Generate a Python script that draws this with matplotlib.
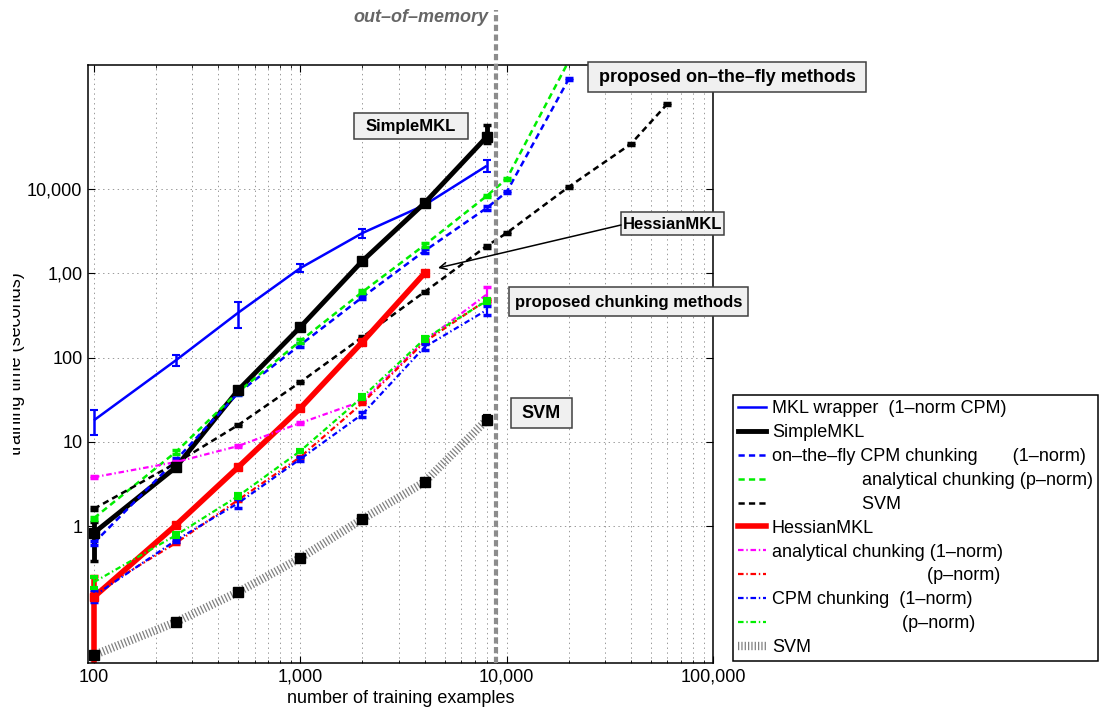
import matplotlib
matplotlib.use('Agg')
import matplotlib.pyplot as plt
from matplotlib.lines import Line2D
from matplotlib.patches import Rectangle, FancyArrowPatch
from matplotlib.ticker import LogLocator, NullLocator, NullFormatter

plt.rcParams['font.family'] = 'Liberation Sans'
plt.rcParams['font.size'] = 13
plt.rcParams['lines.scale_dashes'] = False

W, H = 1099, 711

# training set sizes
n_base = [100, 250, 500, 1000, 2000, 4000, 8000]
n_fly = [100, 250, 500, 1000, 2000, 4000, 8000, 10000, 20000]
n_fly_svm = [100, 250, 500, 1000, 2000, 4000, 8000, 10000, 20000, 40000, 60000]
n_hessian = [100, 250, 500, 1000, 2000, 4000]
n_out_of_memory = 8850

# training times in seconds, with error bar half widths
mkl_wrapper = [18, 93, 340, 1150, 3000, 6450, 18800]
mkl_wrapper_err = [6, 14, 113, 120, 380, 300, 3100]

simplemkl = [0.83, 5.0, 41, 230, 1400, 6800, 41400]
simplemkl_err_lo = [0.45, 0.25, 2, 10, 60, 300, 6200]
simplemkl_err_hi = [0.29, 0.25, 2, 10, 60, 300, 16100]

fly_cpm_1norm = [0.63, 6.1, 38, 141, 520, 1840, 5950, 9200, 202000]
fly_cpm_1norm_err = [0.03, 0.3, 2, 6, 20, 80, 250, 300, 6000]

fly_analytical_pnorm = [1.24, 7.6, 39, 157, 600, 2160, 8260, 13150, 330000]
fly_analytical_pnorm_err = [0.05, 0.4, 2, 8, 25, 120, 300, 400, 10000]

fly_svm = [1.6, 5.6, 15.8, 51, 175, 600, 2100, 3000, 10600, 34200, 102000]
fly_svm_err = [0.06, 0.2, 0.5, 1.5, 5, 20, 80, 100, 350, 1000, 3000]

hessianmkl = [0.144, 1.03, 5.0, 25, 153, 1000]
hessianmkl_err_lo = [0.14, 0.04, 0.2, 1, 5, 30]
hessianmkl_err_hi = [0.11, 0.04, 0.2, 1, 5, 30]

analytical_1norm = [3.8, 5.75, 8.9, 16.7, 30.5, 157, 560]
analytical_1norm_err = [0.1, 0.2, 0.3, 0.5, 1, 5, 120]

analytical_pnorm = [0.16, 0.63, 2.04, 6.6, 28.8, 153, 481]
analytical_pnorm_err = [0.005, 0.02, 0.06, 0.2, 0.9, 5, 15]

cpm_1norm = [0.148, 0.68, 1.87, 6.24, 21.3, 133, 366]
cpm_1norm_err = [0.024, 0.03, 0.25, 0.3, 1.5, 10, 45]

cpm_pnorm = [0.216, 0.78, 2.27, 7.77, 34, 166, 469]
cpm_pnorm_err = [0.03, 0.04, 0.1, 0.3, 1.5, 7, 20]

svm = [0.0294, 0.0726, 0.165, 0.417, 1.21, 3.33, 18.1]
svm_err = [0.002, 0.004, 0.01, 0.02, 0.06, 0.2, 2]

x_ticks = [100, 1000, 10000, 100000]
x_tick_labels = ['100', '1,000', '10,000', '100,000']
y_ticks = [1, 10, 100, 1000, 10000]
y_tick_labels = ['1', '10', '100', '1,00', '10,000']

legend_labels = [
    'MKL wrapper  (1\u2013norm CPM)',
    'SimpleMKL',
    'on\u2013the\u2013fly CPM chunking       (1\u2013norm)',
    '                  analytical chunking (p\u2013norm)',
    '                  SVM',
    'HessianMKL',
    'analytical chunking (1\u2013norm)',
    '                               (p\u2013norm)',
    'CPM chunking  (1\u2013norm)',
    '                          (p\u2013norm)',
    'SVM',
]


def px(x, y):
    # pixel position (from top left) to figure fraction
    return x / W, 1 - y / H


fig = plt.figure(figsize=(W / 100, H / 100), dpi=100)
l, t = px(88, 65)
r, b = px(713, 663)
ax = fig.add_axes([l, b, r - l, t - b])

DASH = (4.5, 3)
DASHDOT = (4, 2, 1, 2)
HATCH = (0.9, 1.5)

handles = []


def series(x, y, err, color, lw, dashes=None, marker=None, ms=6, mfc=None,
           capthick=1.5, capsize=3, z=2):
    ax.errorbar(x, y, yerr=err, fmt='none', ecolor=color, elinewidth=lw,
                capsize=capsize, capthick=capthick, zorder=z)
    ln, = ax.plot(x, y, color=color, lw=lw, zorder=z, solid_capstyle='butt')
    if dashes:
        ln.set_dashes(dashes)
    if marker:
        ax.plot(x, y, ls='none', marker=marker, ms=ms, mfc=mfc or color,
                mec=mfc or color, zorder=z + 0.1)
    h = Line2D([], [], color=color, lw=lw)
    if dashes:
        h.set_dashes(dashes)
    handles.append(h)


series(n_base, mkl_wrapper, mkl_wrapper_err, 'blue', 1.8)
series(n_base, simplemkl, [simplemkl_err_lo, simplemkl_err_hi], 'black', 3.5,
       marker='s', ms=6.5, capthick=2.5)
series(n_fly, fly_cpm_1norm, fly_cpm_1norm_err, 'blue', 1.8, dashes=DASH, capthick=2.5)
series(n_fly, fly_analytical_pnorm, fly_analytical_pnorm_err, '#00ee00', 1.8,
       dashes=DASH, capthick=2.5)
series(n_fly_svm, fly_svm, fly_svm_err, 'black', 1.8, dashes=DASH, capthick=2.5)
series(n_hessian, hessianmkl, [hessianmkl_err_lo, hessianmkl_err_hi], 'red', 4,
       marker='s', ms=6, capthick=2.5)
series(n_base, analytical_1norm, analytical_1norm_err, 'magenta', 1.6,
       dashes=DASHDOT, capthick=2.5)
series(n_base, analytical_pnorm, analytical_pnorm_err, 'red', 1.6,
       dashes=DASHDOT, capthick=2.5)
series(n_base, cpm_1norm, cpm_1norm_err, 'blue', 1.6, dashes=DASHDOT, capthick=2.5)
series(n_base, cpm_pnorm, cpm_pnorm_err, '#00ee00', 1.6, dashes=DASHDOT, capthick=3)

# plain SVM: thick grey hatched line with black squares
ax.errorbar(n_base, svm, yerr=svm_err, fmt='none', ecolor='black', elinewidth=2,
            capsize=3, capthick=3, zorder=3)
svm_line, = ax.plot(n_base, svm, color='0.5', lw=6, dash_capstyle='butt', zorder=3)
svm_line.set_dashes(HATCH)
ax.plot(n_base, svm, ls='none', marker='s', ms=6.5, color='black', zorder=3.1)
h = Line2D([], [], color='0.5', lw=6, dash_capstyle='butt')
h.set_dashes(HATCH)
handles.append(h)

# memory limit
oom = ax.axvline(n_out_of_memory, ymin=0, ymax=(663 - 10) / (663 - 65),
                 color='0.55', lw=3, clip_on=False, zorder=5)
oom.set_dashes((4.5, 2.5))

ax.set_xscale('log')
ax.set_yscale('log')
ax.set_xlim(93.6, 1e5)
ax.set_ylim(0.0237, 2.96e5)
ax.set_xticks(x_ticks, x_tick_labels)
ax.xaxis.set_minor_locator(LogLocator(base=10, subs=range(2, 10)))
ax.xaxis.set_minor_formatter(NullFormatter())
ax.set_yticks(y_ticks, y_tick_labels)
ax.yaxis.set_minor_locator(NullLocator())
ax.tick_params(which='both', direction='in', top=True, right=True, labelsize=13)
ax.tick_params(which='major', length=5, width=0.8, pad=4)
ax.tick_params(which='minor', length=2.5, width=0.6)
ax.grid(True, which='major', axis='both', color='0.6', linestyle=(0, (1, 2.5)), lw=0.7)
ax.grid(True, which='minor', axis='x', color='0.6', linestyle=(0, (1, 2.5)), lw=0.7)
ax.set_axisbelow(True)
for s in ax.spines.values():
    s.set_linewidth(1.1)
ax.set_xlabel('number of training examples', fontsize=13, labelpad=3)

# y label, partly cut at the left border
fig.text(*px(25, 364), 'training time (seconds)', rotation=90, ha='right', va='center',
         fontsize=13)
fig.add_artist(Rectangle((0, 0), 13 / W, 1, transform=fig.transFigure,
                         facecolor='white', edgecolor='none', zorder=10))

fig.text(*px(488, 18), 'out\u2013of\u2013memory', ha='right', va='center', fontsize=13,
         fontweight='bold', fontstyle='italic', color='0.4')


def label_box(x0, y0, x1, y1, text, size):
    x, y = px(x0, y1)
    w, hh = (x1 - x0) / W, (y1 - y0) / H
    fig.add_artist(Rectangle((x, y), w, hh, transform=fig.transFigure,
                             facecolor='#f0f0f0', edgecolor='0.25', lw=1.1, zorder=6))
    fig.text(*px((x0 + x1) / 2, (y0 + y1) / 2 + 1), text, ha='center', va='center',
             fontsize=size, fontweight='bold', zorder=7)


label_box(354, 113, 468, 139, 'SimpleMKL', 12)
label_box(588, 62, 866, 92, 'proposed on\u2013the\u2013fly methods', 13)
label_box(621, 212, 724, 235, 'HessianMKL', 12)
label_box(509, 287, 748, 316, 'proposed chunking methods', 12)
label_box(511, 398, 572, 428, 'SVM', 13)

fig.add_artist(FancyArrowPatch(px(621, 225), px(438, 268), transform=fig.transFigure,
                               arrowstyle='->,head_length=5,head_width=2.5',
                               color='black', lw=1.1, shrinkA=0, shrinkB=0, zorder=6))

leg = fig.legend(handles, legend_labels, loc='upper left', bbox_to_anchor=px(733, 395),
                 fontsize=13, handlelength=1.55, handletextpad=0.3, labelspacing=0.38,
                 borderpad=0.3, borderaxespad=0, fancybox=False, framealpha=1)
leg.get_frame().set_edgecolor('black')
leg.get_frame().set_linewidth(1.1)

fig.savefig('out.png', dpi=100)
